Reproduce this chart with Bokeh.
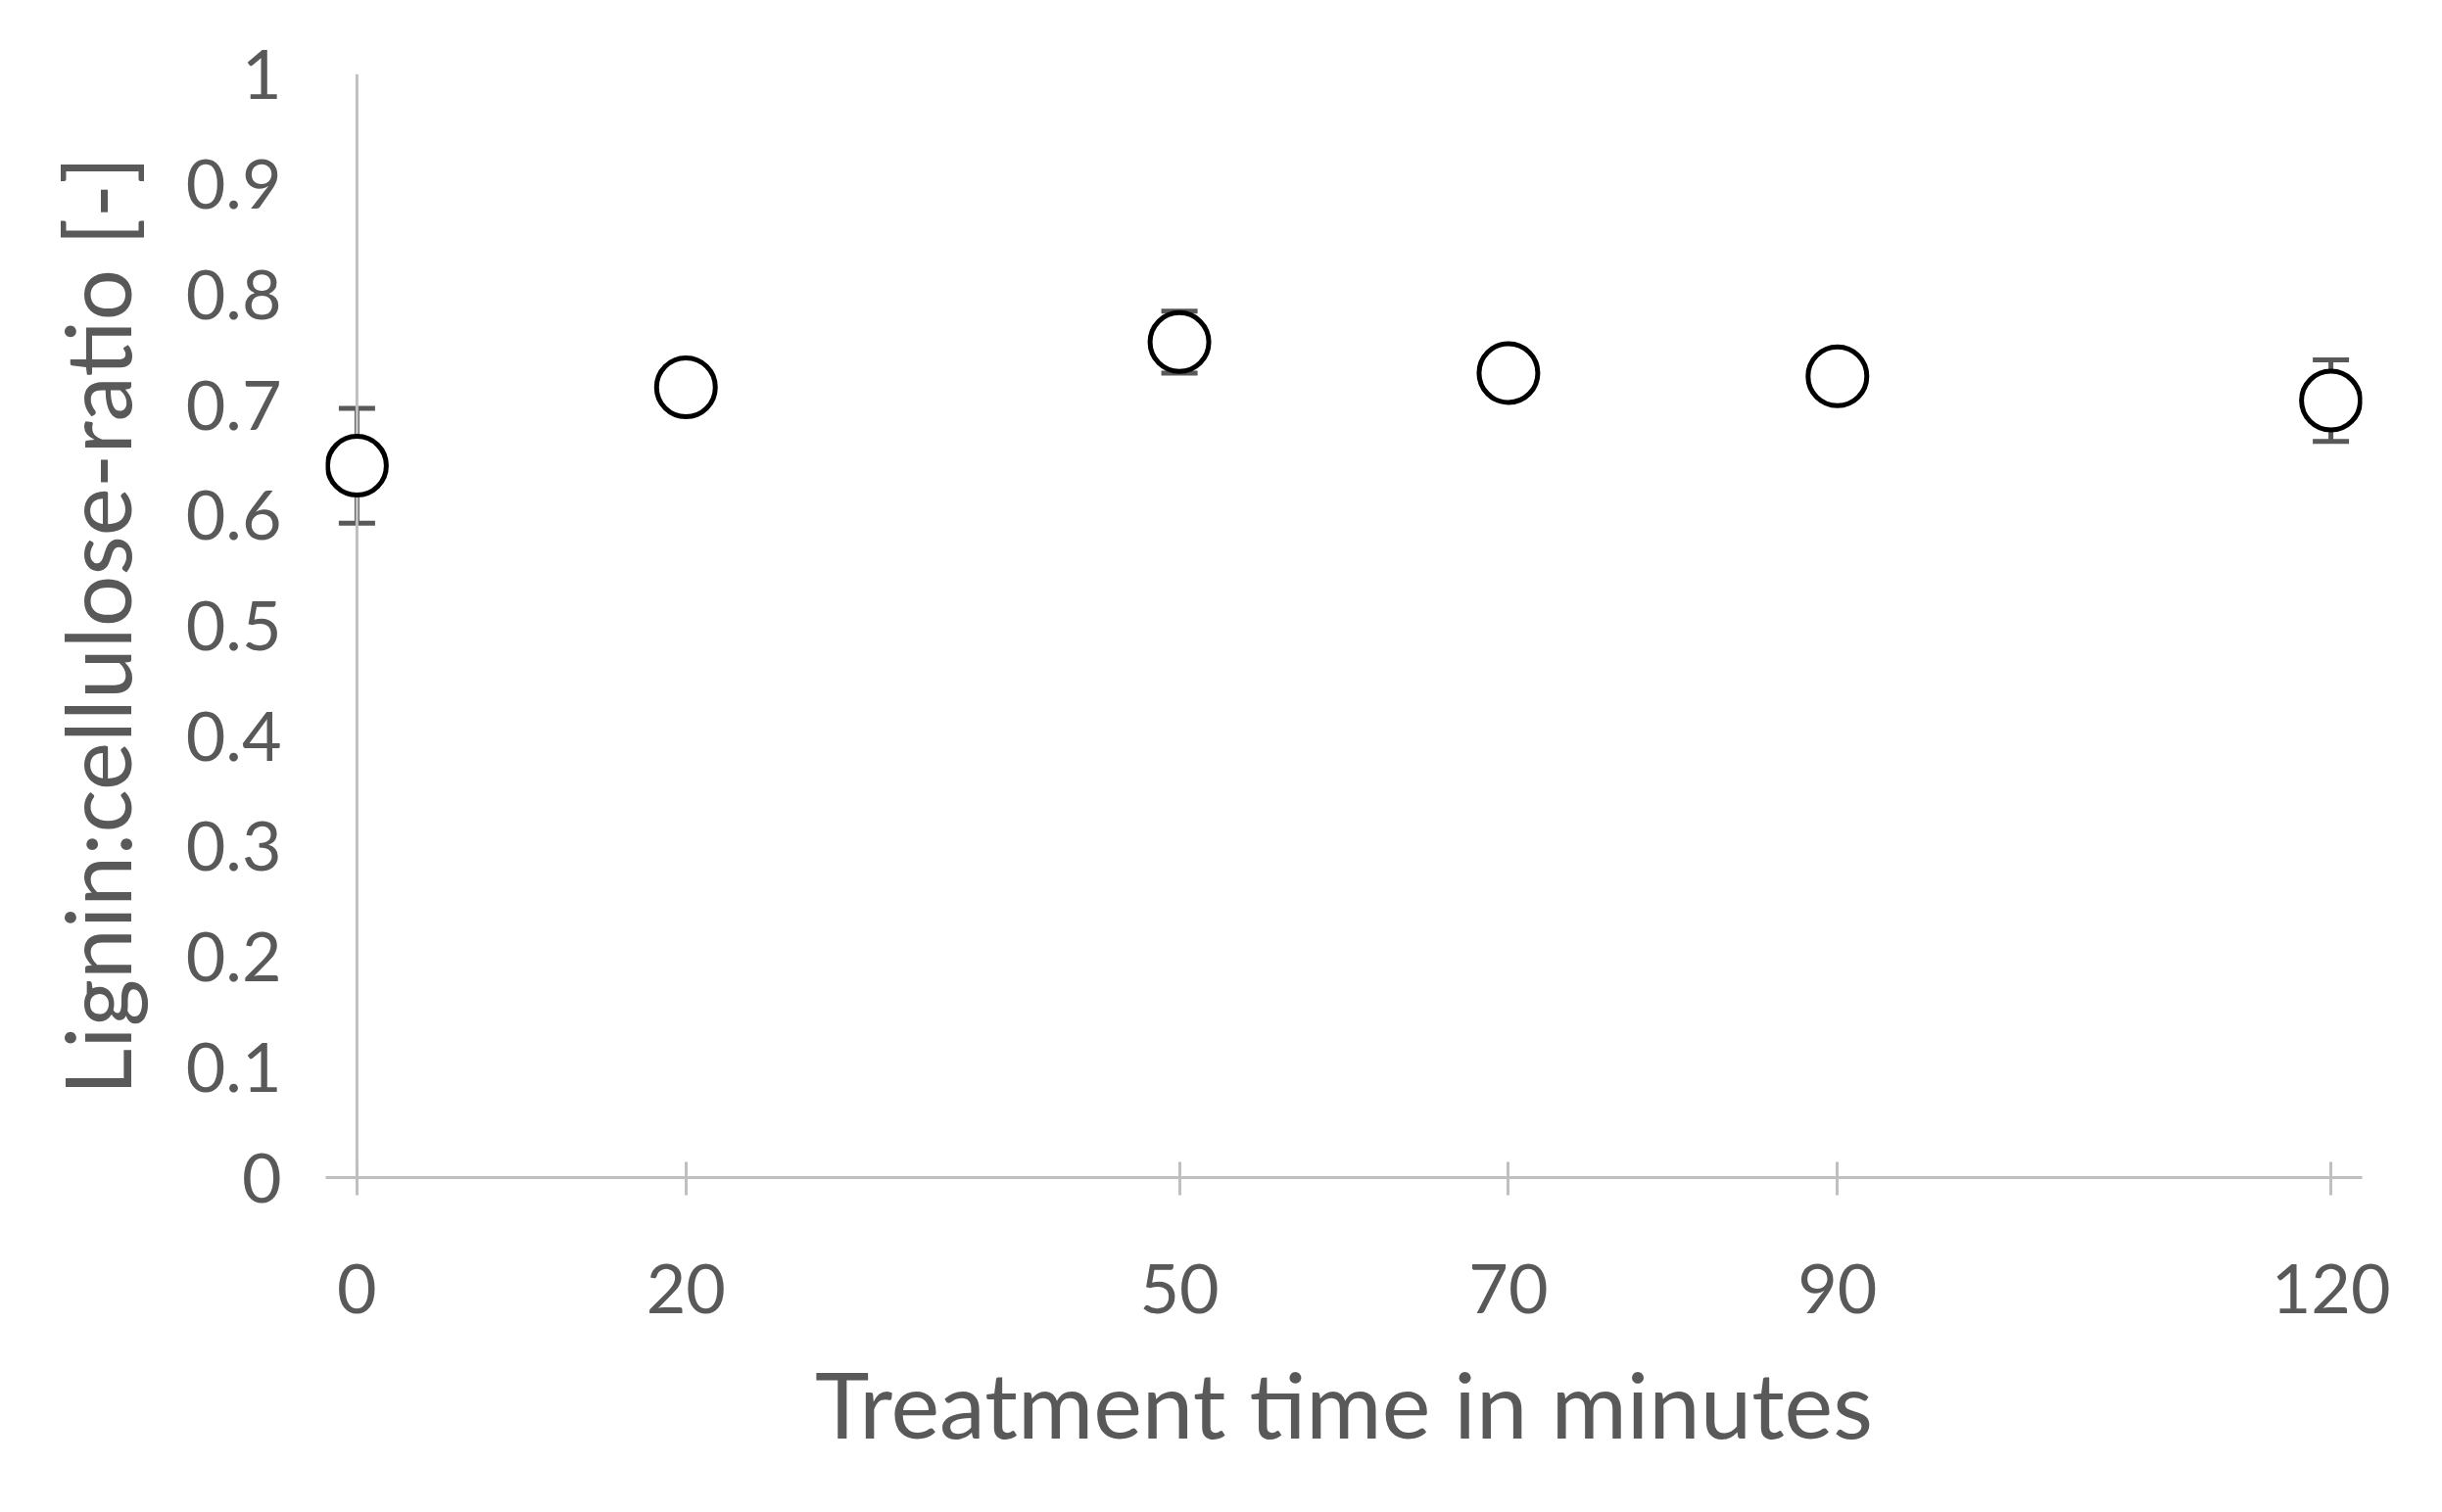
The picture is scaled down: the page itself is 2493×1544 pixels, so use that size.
from bokeh.plotting import figure
from bokeh.models import ColumnDataSource, Whisker, TeeHead, Range1d, FixedTicker
from bokeh.embed import file_html
from bokeh.resources import INLINE

# Data
time_min = [0, 20, 50, 70, 90, 120]
ratio = [0.645, 0.716, 0.757, 0.729, 0.726, 0.704]
ratio_err = [0.052, 0.01, 0.028, 0.01, 0.01, 0.037]
y_tick_values = [0, 0.1, 0.2, 0.3, 0.4, 0.5, 0.6, 0.7, 0.8, 0.9, 1.0]
x_title = "Treatment time in minutes"
y_title = "Lignin:cellulose-ratio [-]"

TEXT = "#595959"
AXIS = "#BFBFBF"
FONT = "Lato"

src = ColumnDataSource(dict(
    x=time_min,
    y=ratio,
    lo=[v - e for v, e in zip(ratio, ratio_err)],
    hi=[v + e for v, e in zip(ratio, ratio_err)],
))

p = figure(width=2477, height=1528, output_backend="svg", toolbar_location=None,
           x_range=Range1d(-1.9, 121.9), y_range=Range1d(0, 1),
           min_border_left=332, min_border_right=66,
           min_border_top=75, min_border_bottom=326)
p.outline_line_color = None
p.grid.visible = False
p.background_fill_color = "white"

# x axis
xa = p.xaxis[0]
xa.ticker = FixedTicker(ticks=time_min)
xa.axis_line_color = AXIS
xa.axis_line_width = 3
xa.major_tick_line_color = AXIS
xa.major_tick_line_width = 3
xa.major_tick_in = 16
xa.major_tick_out = 18
xa.minor_tick_line_color = None
xa.major_label_text_font = FONT
xa.major_label_text_font_size = "70px"
xa.major_label_text_color = TEXT
xa.major_label_standoff = 70
xa.axis_label = x_title
xa.axis_label_text_font = FONT
xa.axis_label_text_font_size = "94px"
xa.axis_label_text_font_style = "normal"
xa.axis_label_text_color = TEXT
xa.axis_label_standoff = 32

# y axis (labels only; line drawn at x=0)
ya = p.yaxis[0]
ya.ticker = FixedTicker(ticks=y_tick_values)
ya.formatter.use_scientific = False
ya.axis_line_color = None
ya.major_tick_line_color = None
ya.minor_tick_line_color = None
ya.major_tick_out = 0
ya.major_tick_in = 0
ya.major_label_text_font = FONT
ya.major_label_text_font_size = "70px"
ya.major_label_text_color = TEXT
ya.major_label_standoff = 45
ya.axis_label = y_title
ya.axis_label_text_font = FONT
ya.axis_label_text_font_size = "93px"
ya.axis_label_text_font_style = "normal"
ya.axis_label_text_color = TEXT
ya.axis_label_standoff = 33

# vertical axis line at x = 0
p.segment(x0=[time_min[0]], y0=[y_tick_values[0]], x1=[time_min[0]], y1=[y_tick_values[-1]],
          line_color=AXIS, line_width=3)

# error bars
w = Whisker(source=src, base="x", lower="lo", upper="hi",
            line_color="#595959", line_width=5,
            upper_head=TeeHead(size=37, line_color="#595959", line_width=5),
            lower_head=TeeHead(size=37, line_color="#595959", line_width=5))
p.add_layout(w)

p.scatter(x="x", y="y", source=src, size=60, marker="circle",
          fill_color="white", line_color="black", line_width=5)

open("out.html", "w").write(file_html(p, INLINE))
